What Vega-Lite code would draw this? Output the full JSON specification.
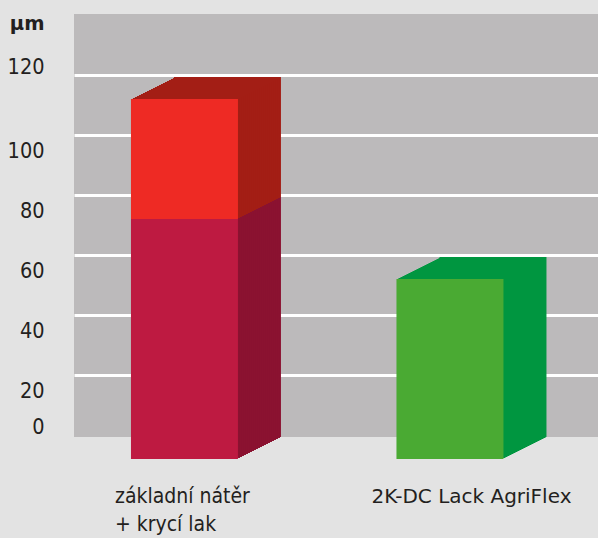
{
  "$schema": "https://vega.github.io/schema/vega-lite/v6.json",
  "width": 524,
  "height": 423,
  "autosize": {"type": "none"},
  "padding": {"left": 74, "top": 14, "right": 0, "bottom": 101},
  "background": "#e3e3e3",
  "config": {"view": {"fill": "#bcbabb", "stroke": null}},
  "data": {
    "values": [
      {"product": "základní nátěr + krycí lak", "layer": "základní nátěr", "thickness": 80},
      {"product": "základní nátěr + krycí lak", "layer": "krycí lak", "thickness": 40},
      {"product": "2K-DC Lack AgriFlex", "layer": "2K-DC Lack AgriFlex", "thickness": 60}
    ]
  },
  "encoding": {
    "x": {
      "field": "product", "type": "nominal",
      "scale": {"type": "band", "domain": ["základní nátěr + krycí lak", "2K-DC Lack AgriFlex"], "paddingInner": 0.597, "paddingOuter": 0.2853, "align": 0.376},
      "axis": {
        "title": null, "domain": false, "ticks": false, "tickSize": 0, "grid": false,
        "labelFont": {"condition": {"test": "datum.value == 'základní nátěr + krycí lak'", "value": "DejaVu Sans Condensed, DejaVu Sans"}, "value": "DejaVu Sans"},
        "labelFontSize": {"condition": {"test": "datum.value == 'základní nátěr + krycí lak'", "value": 21}, "value": 20},
        "labelColor": "#231f20",
        "labelExpr": "datum.value == 'základní nátěr + krycí lak' ? ['základní nátěr', '+ krycí lak'] : datum.value",
        "labelAlign": {"condition": {"test": "datum.value == 'základní nátěr + krycí lak'", "value": "left"}, "value": "center"},
        "labelOffset": {"condition": {"test": "datum.value == 'základní nátěr + krycí lak'", "value": -69.5}, "value": 21.5},
        "labelBaseline": "alphabetic", "labelPadding": 65, "labelLineHeight": 28, "labelLimit": 400,
        "labelOverlap": false, "labelFlush": false, "labelAngle": 0
      }
    },
    "y": {
      "field": "thickness", "type": "quantitative", "stack": "zero",
      "scale": {"domain": [0, 141], "nice": false, "zero": true},
      "axis": {
        "title": "µm", "titleAngle": 0, "titleAlign": "right", "titleBaseline": "alphabetic", "titleX": -30, "titleY": 15,
        "titleFont": "DejaVu Sans", "titleFontWeight": "bold", "titleFontSize": 19.5, "titleColor": "#231f20",
        "values": [0, 20, 40, 60, 80, 100, 120],
        "grid": true, "gridColor": {"condition": {"test": "datum.value == 0", "value": "transparent"}, "value": "#ffffff"}, "gridWidth": 3, "gridOpacity": 1,
        "tickOffset": -2, "domain": false, "ticks": false, "tickSize": 0,
        "labelOffset": {"condition": {"test": "datum.value == 120 || datum.value == 0", "value": -7.5}, "value": 16.5},
        "labelPadding": 30, "labelFont": "DejaVu Sans Condensed, DejaVu Sans", "labelFontSize": 21.5, "labelColor": "#231f20",
        "labelBaseline": "middle", "labelAlign": "right", "labelOverlap": false, "labelFlush": false
      }
    },
    "order": {"field": "layer", "sort": "descending"}
  },
  "layer": [
    {"mark": {"type": "bar", "xOffset": 43, "yOffset": 0}, "encoding": {"fill": {"field": "layer", "type": "nominal", "scale": {"domain": ["základní nátěr", "krycí lak", "2K-DC Lack AgriFlex"], "range": ["#8b1230", "#a31e15", "#009640"]}, "legend": null}}},
    {"mark": {"type": "bar", "xOffset": 42, "yOffset": 1}, "encoding": {"fill": {"field": "layer", "type": "nominal", "legend": null}}},
    {"mark": {"type": "bar", "xOffset": 40, "yOffset": 2}, "encoding": {"fill": {"field": "layer", "type": "nominal", "legend": null}}},
    {"mark": {"type": "bar", "xOffset": 38, "yOffset": 3}, "encoding": {"fill": {"field": "layer", "type": "nominal", "legend": null}}},
    {"mark": {"type": "bar", "xOffset": 36, "yOffset": 4}, "encoding": {"fill": {"field": "layer", "type": "nominal", "legend": null}}},
    {"mark": {"type": "bar", "xOffset": 34, "yOffset": 5}, "encoding": {"fill": {"field": "layer", "type": "nominal", "legend": null}}},
    {"mark": {"type": "bar", "xOffset": 32, "yOffset": 6}, "encoding": {"fill": {"field": "layer", "type": "nominal", "legend": null}}},
    {"mark": {"type": "bar", "xOffset": 30, "yOffset": 7}, "encoding": {"fill": {"field": "layer", "type": "nominal", "legend": null}}},
    {"mark": {"type": "bar", "xOffset": 28, "yOffset": 8}, "encoding": {"fill": {"field": "layer", "type": "nominal", "legend": null}}},
    {"mark": {"type": "bar", "xOffset": 26, "yOffset": 9}, "encoding": {"fill": {"field": "layer", "type": "nominal", "legend": null}}},
    {"mark": {"type": "bar", "xOffset": 24, "yOffset": 10}, "encoding": {"fill": {"field": "layer", "type": "nominal", "legend": null}}},
    {"mark": {"type": "bar", "xOffset": 22, "yOffset": 11}, "encoding": {"fill": {"field": "layer", "type": "nominal", "legend": null}}},
    {"mark": {"type": "bar", "xOffset": 20, "yOffset": 12}, "encoding": {"fill": {"field": "layer", "type": "nominal", "legend": null}}},
    {"mark": {"type": "bar", "xOffset": 18, "yOffset": 13}, "encoding": {"fill": {"field": "layer", "type": "nominal", "legend": null}}},
    {"mark": {"type": "bar", "xOffset": 16, "yOffset": 14}, "encoding": {"fill": {"field": "layer", "type": "nominal", "legend": null}}},
    {"mark": {"type": "bar", "xOffset": 14, "yOffset": 15}, "encoding": {"fill": {"field": "layer", "type": "nominal", "legend": null}}},
    {"mark": {"type": "bar", "xOffset": 12, "yOffset": 16}, "encoding": {"fill": {"field": "layer", "type": "nominal", "legend": null}}},
    {"mark": {"type": "bar", "xOffset": 10, "yOffset": 17}, "encoding": {"fill": {"field": "layer", "type": "nominal", "legend": null}}},
    {"mark": {"type": "bar", "xOffset": 8, "yOffset": 18}, "encoding": {"fill": {"field": "layer", "type": "nominal", "legend": null}}},
    {"mark": {"type": "bar", "xOffset": 6, "yOffset": 19}, "encoding": {"fill": {"field": "layer", "type": "nominal", "legend": null}}},
    {"mark": {"type": "bar", "xOffset": 4, "yOffset": 20}, "encoding": {"fill": {"field": "layer", "type": "nominal", "legend": null}}},
    {"mark": {"type": "bar", "xOffset": 2, "yOffset": 21}, "encoding": {"fill": {"field": "layer", "type": "nominal", "legend": null}}},
    {"mark": {"type": "bar", "xOffset": 0, "yOffset": 22}, "encoding": {"color": {"field": "layer", "type": "nominal", "scale": {"domain": ["základní nátěr", "krycí lak", "2K-DC Lack AgriFlex"], "range": ["#be1a41", "#ee2a24", "#4aaa33"]}, "legend": null}}}
  ]
}
